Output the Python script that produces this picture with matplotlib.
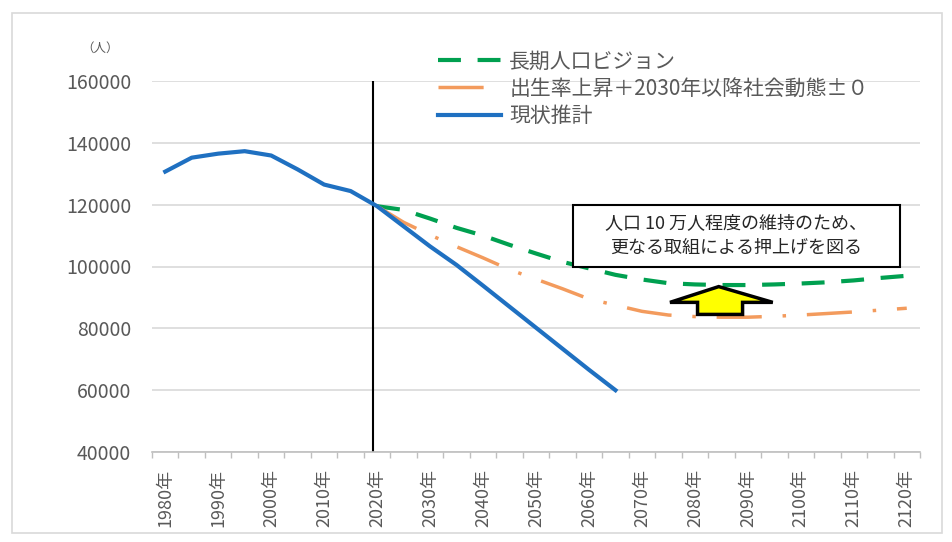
import numpy as np
import matplotlib
matplotlib.use("Agg")
import matplotlib.pyplot as plt
from matplotlib.patches import Rectangle, Polygon

plt.rcParams['font.family'] = ['Noto Sans CJK JP', 'DejaVu Sans']

# ---------------------------------------------------------------
# Données
# ---------------------------------------------------------------
YEARS = list(range(1980, 2121, 5))
TICK_YEARS = list(range(1980, 2121, 10))
TICK_LABELS = [f"{y}年" for y in TICK_YEARS]

# 現状推計 : 1980 -> 2065
current_years = list(range(1980, 2066, 5))
current = [130700, 135200, 136500, 137300, 135900, 131400, 126500, 124400,
           119500, 113000, 106500, 100500, 93800, 87000, 80200, 73400,
           66600, 60000]

# 長期人口ビジョン : 2020 -> 2120
vision_years = list(range(2020, 2121, 5))
vision = [119500, 118300, 115500, 112500, 110000, 107000, 104200, 101500,
          99400, 97300, 95800, 94600, 94200, 94000, 94000, 94200, 94500,
          94900, 95500, 96300, 97000]

# 出生率上昇＋2030年以降社会動態±０ : 2020 -> 2120
birth_years = list(range(2020, 2121, 5))
birth = [119500, 114300, 110200, 106400, 102800, 99000, 95900, 92800,
         89500, 87500, 85500, 84300, 83800, 83600, 83600, 83900, 84300,
         84800, 85300, 85900, 86500]

LABEL_VISION = "長期人口ビジョン"
LABEL_BIRTH = "出生率上昇＋2030年以降社会動態±０"
LABEL_CURRENT = "現状推計"
NOTE = "人口 10 万人程度の維持のため、\n更なる取組による押上げを図る"


def pos(years):
    return [YEARS.index(y) for y in years]


# ---------------------------------------------------------------
# Figure
# ---------------------------------------------------------------
fig = plt.figure(figsize=(9.52, 5.42), dpi=100)
ax = fig.add_axes([152 / 952, 1 - 452 / 542, 768 / 952, 371 / 542])

# cadre extérieur gris clair
fig.patches.append(Rectangle((12 / 952, 1 - 533 / 542), 930 / 952, 520 / 542,
                             transform=fig.transFigure, fill=False,
                             edgecolor="#d9d9d9", linewidth=1.2))

ax.set_xlim(-0.5, len(YEARS) - 0.5)
ax.set_ylim(40000, 160000)
ax.set_yticks(range(40000, 160001, 20000))
ax.yaxis.grid(True, color="#d9d9d9", linewidth=1.2)
ax.set_axisbelow(True)

for s in ["top", "right", "left"]:
    ax.spines[s].set_visible(False)
ax.spines["bottom"].set_color("#bfbfbf")
ax.spines["bottom"].set_linewidth(1.2)

ax.tick_params(axis="y", length=0, pad=15, labelsize=14, labelcolor="#595959")
ax.set_xticks(np.arange(len(YEARS) + 1) - 0.5)
ax.set_xticklabels([])
ax.tick_params(axis="x", which="major", length=4, color="#bfbfbf", width=1)
ax.set_xticks(pos(TICK_YEARS), minor=True)
ax.set_xticklabels(TICK_LABELS, minor=True, rotation=90, fontsize=13,
                   color="#595959")
ax.tick_params(axis="x", which="minor", length=0, pad=12)

# ligne verticale 2020
ax.axvline(7.83, color="black", linewidth=1.5, zorder=2)

# séries
ax.plot(pos(vision_years), vision, color="#00a050", linewidth=3,
        linestyle=(0, (5.5, 4)), label=LABEL_VISION, zorder=3)
ax.plot(pos(birth_years), birth, color="#f39b5d", linewidth=2.5,
        linestyle=(0, (13, 6, 1, 6)), label=LABEL_BIRTH, zorder=3)
ax.plot(pos(current_years), current, color="#1f70c1", linewidth=3,
        label=LABEL_CURRENT, zorder=4)

# encadré
ax.add_patch(Rectangle((15.4, 100000), 12.35, 20000, facecolor="white",
                       edgecolor="black", linewidth=1.5, zorder=5))
ax.text(21.55, 110000, NOTE, ha="center", va="center", fontsize=13,
        color="#262626", linespacing=1.5, zorder=6)

# flèche jaune
arrow = [(20.9, 93500), (22.94, 88400), (21.8, 88400), (21.8, 84500),
         (20.1, 84500), (20.1, 88400), (19.06, 88400)]
ax.add_patch(Polygon(arrow, closed=True, facecolor="#ffff00",
                     edgecolor="black", linewidth=2.5, zorder=6))

fig.text(100 / 952, 1 - 48 / 542, "（人）", fontsize=9, color="#595959",
         ha="center", va="center")

fig.legend(loc="upper left", bbox_to_anchor=(428 / 952, 1 - 40 / 542),
           frameon=False, fontsize=15, handlelength=3, handletextpad=0.4,
           labelspacing=0.25, labelcolor="#595959", borderpad=0)

fig.savefig("out.png", dpi=100)
